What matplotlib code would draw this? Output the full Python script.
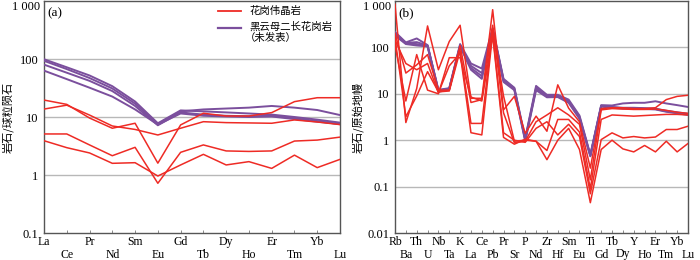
import matplotlib
matplotlib.use("Agg")
import matplotlib.pyplot as plt
from matplotlib.ticker import FixedLocator, NullLocator
from matplotlib.transforms import blended_transform_factory

# ---------------- data ----------------
ree = ["La", "Ce", "Pr", "Nd", "Sm", "Eu", "Gd", "Tb", "Dy", "Ho", "Er", "Tm", "Yb", "Lu"]

ree_peg1 = [19.6, 16.5, 9.6, 6.4, 7.8, 1.6, 7.3, 11.6, 10.4, 10.4, 11.9, 18.4, 21.5, 21.5]
ree_peg2 = [13.7, 16.0, 10.8, 7.0, 6.1, 4.9, 6.4, 8.3, 8.0, 7.9, 7.8, 8.9, 8.2, 7.4]
ree_peg3 = [5.1, 5.1, 3.3, 2.15, 3.0, 0.72, 2.46, 3.3, 2.6, 2.55, 2.6, 3.85, 4.0, 4.5]
ree_peg4 = [3.9, 2.96, 2.4, 1.59, 1.63, 0.96, 1.49, 2.27, 1.49, 1.7, 1.3, 2.2, 1.34, 1.86]

ree_bg1 = [99, 72, 52, 34, 18.5, 7.8, 13.0, 12.5, 12.0, 11.5, 11.0, 10.0, 9.0, 8.0]
ree_bg2 = [93, 67, 47, 31, 17.0, 7.5, 12.5, 13.5, 14.0, 14.5, 15.5, 14.5, 13.2, 10.8]
ree_bg3 = [80, 58, 42, 28, 15.5, 7.2, 12.0, 11.0, 10.5, 10.3, 10.5, 9.5, 8.5, 7.5]
ree_bg4 = [63, 45, 32, 22.5, 13.5, 7.4, 11.5, 10.5, 10.2, 10.0, 10.2, 9.2, 8.3, 7.6]

spd = ["Rb", "Ba", "Th", "U", "Nb", "Ta", "K", "La", "Ce", "Pb", "Pr", "Sr", "P", "Nd",
       "Zr", "Hf", "Sm", "Eu", "Ti", "Gd", "Tb", "Dy", "Y", "Ho", "Er", "Tm", "Yb", "Lu"]

spd_peg1 = [850, 2.4, 13, 290, 33, 134, 300, 8.0, 8.0, 650, 4.5, 8.8, 1.4, 3.3, 1.56, 15.6,
            4.9, 2.5, 0.25, 4.8, 5.0, 5.0, 4.8, 4.8, 5.0, 7.5, 8.8, 9.3]
spd_peg2 = [200, 28, 42, 70, 12, 12, 110, 6.5, 7.5, 300, 3.9, 0.88, 0.95, 2.5, 3.5, 5.0,
            3.5, 2.2, 0.14, 4.5, 4.8, 4.7, 4.6, 4.6, 4.7, 4.4, 4.0, 3.8]
spd_peg3 = [160, 3.2, 9, 30, 11, 11.5, 85, 2.3, 2.3, 250, 9.0, 0.95, 1.0, 0.95, 0.6, 2.8,
            2.8, 1.5, 0.09, 2.8, 3.5, 3.4, 3.3, 3.4, 3.5, 3.6, 3.6, 3.5]
spd_peg4 = [143, 45, 33, 45, 10.5, 40, 75, 1.45, 1.3, 200, 1.45, 1.0, 0.9, 1.8, 2.5, 1.3,
            2.2, 1.2, 0.07, 1.03, 1.44, 1.12, 1.2, 1.12, 1.17, 1.7, 1.7, 2.0]
spd_peg5 = [112, 7, 70, 12, 10, 60, 60, 8.5, 7.0, 180, 1.15, 0.82, 1.05, 0.95, 0.38, 1.0,
            1.8, 0.63, 0.045, 0.63, 1.0, 0.65, 0.56, 0.77, 0.56, 0.95, 0.56, 0.85]

spd_bg1 = [215, 128, 156, 112, 12.2, 13.2, 118, 45, 35, 260, 21, 13.5, 1.1, 14.8, 9.5, 9.5,
           7.5, 3.4, 0.49, 5.7, 5.6, 6.2, 6.4, 6.4, 6.9, 6.2, 5.7, 5.2]
spd_bg2 = [200, 125, 130, 110, 11.8, 13.0, 112, 40, 28, 250, 20, 13, 1.05, 13.5, 9.0, 9.0,
           7.0, 3.2, 0.47, 5.5, 5.2, 5.0, 5.0, 4.9, 4.8, 4.3, 4.0, 3.7]
spd_bg3 = [190, 122, 118, 108, 11.5, 12.8, 108, 36, 24, 240, 19, 12.5, 1.0, 13, 8.7, 8.8,
           6.7, 3.0, 0.46, 5.4, 5.1, 4.9, 4.9, 4.8, 4.7, 4.2, 3.9, 3.6]
spd_bg4 = [180, 118, 110, 105, 11.0, 12.5, 105, 33, 21, 230, 18, 12, 0.95, 12, 8.4, 8.5,
           6.4, 2.9, 0.45, 5.3, 5.0, 4.8, 4.8, 4.7, 4.6, 4.1, 3.8, 3.5]

ree_peg = [ree_peg1, ree_peg2, ree_peg3, ree_peg4]
ree_bg = [ree_bg1, ree_bg2, ree_bg3, ree_bg4]
spd_peg = [spd_peg1, spd_peg2, spd_peg3, spd_peg4, spd_peg5]
spd_bg = [spd_bg1, spd_bg2, spd_bg3, spd_bg4]

leg_peg = "花岗伟晶岩"
leg_bg1 = "黑云母二长花岗岩"
leg_bg2 = "（未发表）"
ylab_a = "岩石/球粒陨石"
ylab_b = "岩石/原始地幔"

# ---------------- style ----------------
RED = "#ee2b25"
PURPLE = "#7b4f9d"
GRID = "#b8b8b8"
SERIF = ["Liberation Serif", "DejaVu Serif"]
CJK = ["Noto Sans CJK SC", "DejaVu Sans"]
W, H = 700.0, 260.0

fig = plt.figure(figsize=(7, 2.6), dpi=100)
ax1 = fig.add_axes([44 / W, 27 / H, 296 / W, 232 / H])
ax2 = fig.add_axes([395 / W, 27 / H, 293 / W, 232 / H])


def fmt_val(v):
    if v >= 1000:
        return ""
    if v >= 1:
        return "%d" % v
    return "%g" % v


def setup(ax, names, ymin, ylabel, tag, ylab_x, ax_left_px):
    n = len(names)
    ax.set_yscale("log")
    ax.set_ylim(ymin, 1000)
    ax.set_xlim(0, n - 1)
    decs = []
    v = ymin
    while v <= 1000 * 1.001:
        decs.append(v)
        v *= 10
    ax.yaxis.set_major_locator(FixedLocator(decs))
    ax.yaxis.set_minor_locator(NullLocator())
    ax.set_yticklabels([fmt_val(d) for d in decs], fontfamily=SERIF, fontsize=9)
    # top label nudged below the axis top so it is not clipped
    fig.text((ax_left_px - 4) / W, 1 - 1.5 / H, "1 000", ha="right", va="top",
             fontfamily=SERIF, fontsize=9)
    for d in decs[1:-1]:
        ax.axhline(d, color=GRID, lw=1.0, zorder=0)
    ax.set_xticks(range(n))
    ax.set_xticklabels([])
    ax.tick_params(axis="x", direction="in", length=2.5, width=0.6, color="#777777")
    ax.tick_params(axis="y", direction="in", length=0, pad=4)
    for s in ax.spines.values():
        s.set_color("#555555")
        s.set_linewidth(1.0)
    tr = blended_transform_factory(ax.transData, fig.transFigure)
    for i, nm in enumerate(names):
        ypix = 242 if i % 2 == 0 else 254.5
        ax.text(i, 1 - ypix / H, nm, transform=tr, ha="center", va="center",
                fontfamily=SERIF, fontsize=8.5, clip_on=False)
    fig.text(ylab_x / W, 1 - 117 / H, ylabel, rotation=90, ha="center", va="center",
             fontfamily=CJK, fontsize=8)
    ax.text(0.012, 0.975, tag, transform=ax.transAxes, ha="left", va="top",
            fontfamily=SERIF, fontsize=9.5)


setup(ax1, ree, 0.1, ylab_a, "(a)", 8, 44)
setup(ax2, spd, 0.01, ylab_b, "(b)", 358, 395)

x1 = list(range(len(ree)))
x2 = list(range(len(spd)))
for s in ree_bg:
    ax1.plot(x1, s, color=PURPLE, lw=1.4, zorder=3)
for s in ree_peg:
    ax1.plot(x1, s, color=RED, lw=1.1, zorder=4)
for s in spd_bg:
    ax2.plot(x2, s, color=PURPLE, lw=1.4, zorder=3)
for s in spd_peg:
    ax2.plot(x2, s, color=RED, lw=1.1, zorder=4)


def fy(p):
    return 1 - p / H


fig.add_artist(plt.Line2D([218 / W, 241 / W], [fy(11), fy(11)], color=RED, lw=1.3))
fig.add_artist(plt.Line2D([218 / W, 241 / W], [fy(28), fy(28)], color=PURPLE, lw=1.6))
fig.text(249 / W, fy(11), leg_peg, ha="left", va="center", fontfamily=CJK, fontsize=7.5)
fig.text(249 / W, fy(27), leg_bg1, ha="left", va="center", fontfamily=CJK, fontsize=7.5)
fig.text(245 / W, fy(37.5), leg_bg2, ha="left", va="center", fontfamily=CJK, fontsize=7.5)

fig.savefig("out.png", dpi=100)
